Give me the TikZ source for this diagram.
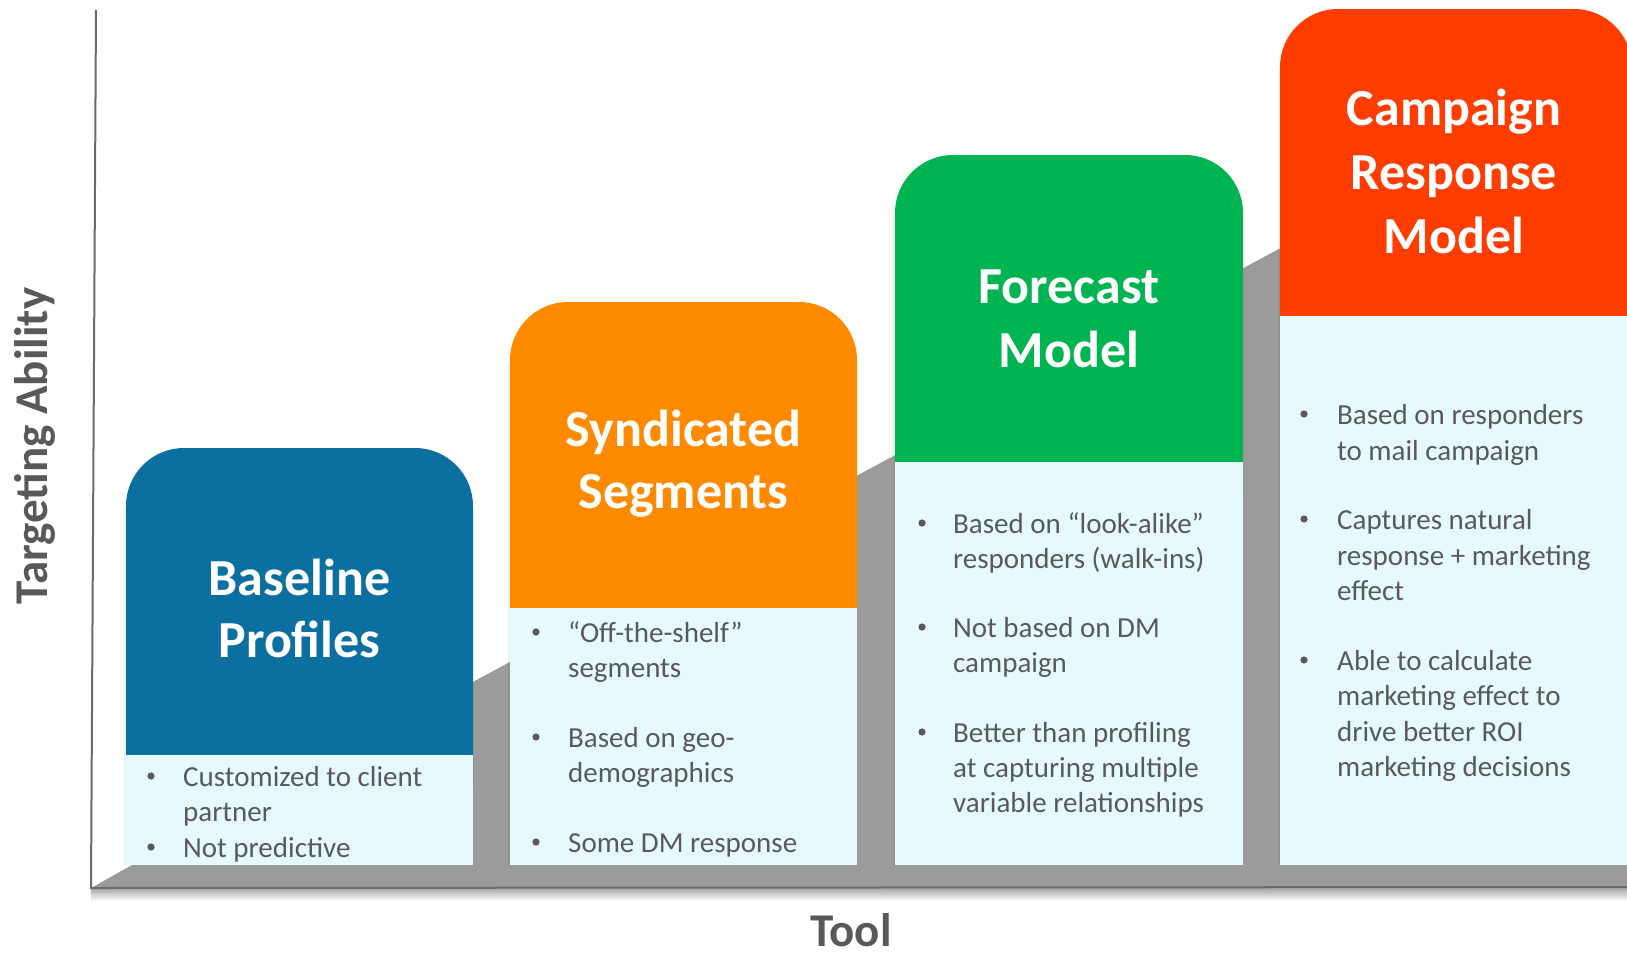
\documentclass[tikz,border=0pt]{standalone}
\usepackage{fontspec}
\setmainfont{Carlito}
\definecolor{txtgray}{HTML}{595959}
\definecolor{rampgray}{HTML}{9B9B9B}
\definecolor{axisgray}{HTML}{6B6B6B}
\definecolor{bodybg}{HTML}{E6FAFE}
\definecolor{cblue}{HTML}{0B6FA0}
\definecolor{corange}{HTML}{FF8A00}
\definecolor{cgreen}{HTML}{00B451}
\definecolor{cred}{HTML}{FF3D00}
\newcommand\bodysize{\fontsize{29}{35}\selectfont}
\newcommand\titlesize{\bfseries\fontsize{52}{63}\selectfont}
\newcommand\axissize{\bfseries\fontsize{47}{56}\selectfont}
% one column: header with rounded top, light body below it
% #1 left x, #2 top y, #3 header bottom y, #4 colour, #5 width
\newcommand\toolcolumn[5]{%
  \fill[black, opacity=0.06] (#1-2,#2+60) rectangle (#1,865);
  \fill[#4, rounded corners=58] (#1,#2) rectangle (#1+#5,#3+90);
  \fill[bodybg] (#1,#3) rectangle (#1+#5,865);
}
\begin{document}
\begin{tikzpicture}[x=1pt,y=-1pt,
  title/.style={font=\titlesize, text=white, anchor=base, inner sep=0pt},
  item/.style={font=\bodysize, text=txtgray, anchor=base west, inner sep=0pt},
  axislabel/.style={font=\axissize, text=txtgray, anchor=base, inner sep=0pt},
  axisline/.style={draw=axisgray, line width=2pt},
  dot/.style={fill=txtgray}]
\useasboundingbox (0,0) rectangle (1627,956);
\fill[white] (0,0) rectangle (1627,956);

% axis corner points
\coordinate (top) at (96,10);
\coordinate (origin) at (91,888);
\coordinate (xend) at (1627,887);
\coordinate (floorin) at (132,865);

% shadow under the floor
\shade[top color=black!35, bottom color=white] (91,888) rectangle (1627,901);
% floor and rising ramp
\fill[rampgray] (origin) -- (floorin) -- (1627,865) -- (xend) -- cycle;
\fill[rampgray] (floorin) -- (1627,62) -- (1627,866) -- cycle;

% axes
\draw[axisline] (top) -- (origin) -- (xend);

% columns
\toolcolumn{126}{448}{755}{cblue}{347}
\toolcolumn{510}{302}{608}{corange}{347}
\toolcolumn{895}{155}{462}{cgreen}{348}
\toolcolumn{1280}{9}{316}{cred}{352}

% titles
\node[title] (t1a) at (299.5,595) {Baseline};
\node[title] (t1b) at (299.5,657) {Profiles};
\node[title] (t2a) at (683.5,446) {Syndicated};
\node[title] (t2b) at (683.5,508) {Segments};
\node[title] (t3a) at (1069,303) {Forecast};
\node[title] (t3b) at (1069,367) {Model};
\node[title] (t4a) at (1454,125) {Campaign};
\node[title] (t4b) at (1454,189) {Response};
\node[title] (t4c) at (1454,253) {Model};

% column 1 items
\fill[dot] (151,776) circle (3.6);
\fill[dot] (151,847) circle (3.6);
\node[item] (a1) at (183,786) {Customized to client};
\node[item] (a2) at (183,821) {partner};
\node[item] (a3) at (183,857) {Not predictive};

% column 2 items
\fill[dot] (536,632) circle (3.6);
\fill[dot] (536,737) circle (3.6);
\fill[dot] (536,842) circle (3.6);
\node[item] (b1) at (568,642) {“Off-the-shelf”};
\node[item] (b2) at (568,677) {segments};
\node[item] (b3) at (568,747) {Based on geo-};
\node[item] (b4) at (568,782) {demographics};
\node[item] (b5) at (568,852) {Some DM response};

% column 3 items
\fill[dot] (922,523) circle (3.6);
\fill[dot] (922,627) circle (3.6);
\fill[dot] (922,732) circle (3.6);
\node[item] (c1) at (953,533) {Based on “look-alike”};
\node[item] (c2) at (953,568) {responders (walk-ins)};
\node[item] (c3) at (953,637) {Not based on DM};
\node[item] (c4) at (953,672) {campaign};
\node[item] (c5) at (953,742) {Better than profiling};
\node[item] (c6) at (953,777) {at capturing multiple};
\node[item] (c7) at (953,812) {variable relationships};

% column 4 items
\fill[dot] (1304,414) circle (3.6);
\fill[dot] (1304,519) circle (3.6);
\fill[dot] (1304,660) circle (3.6);
\node[item] (d1) at (1337,424) {Based on responders};
\node[item] (d2) at (1337,460) {to mail campaign};
\node[item] (d3) at (1337,529) {Captures natural};
\node[item] (d4) at (1337,565) {response + marketing};
\node[item] (d5) at (1337,600) {effect};
\node[item] (d6) at (1337,670) {Able to calculate};
\node[item] (d7) at (1337,705) {marketing effect to};
\node[item] (d8) at (1337,741) {drive better ROI};
\node[item] (d9) at (1337,776) {marketing decisions};

% axis labels
\node[axislabel, rotate=90] (ylab) at (47,446) {Targeting Ability};
\node[axislabel] (xlab) at (851,946) {Tool};
\end{tikzpicture}
\end{document}
